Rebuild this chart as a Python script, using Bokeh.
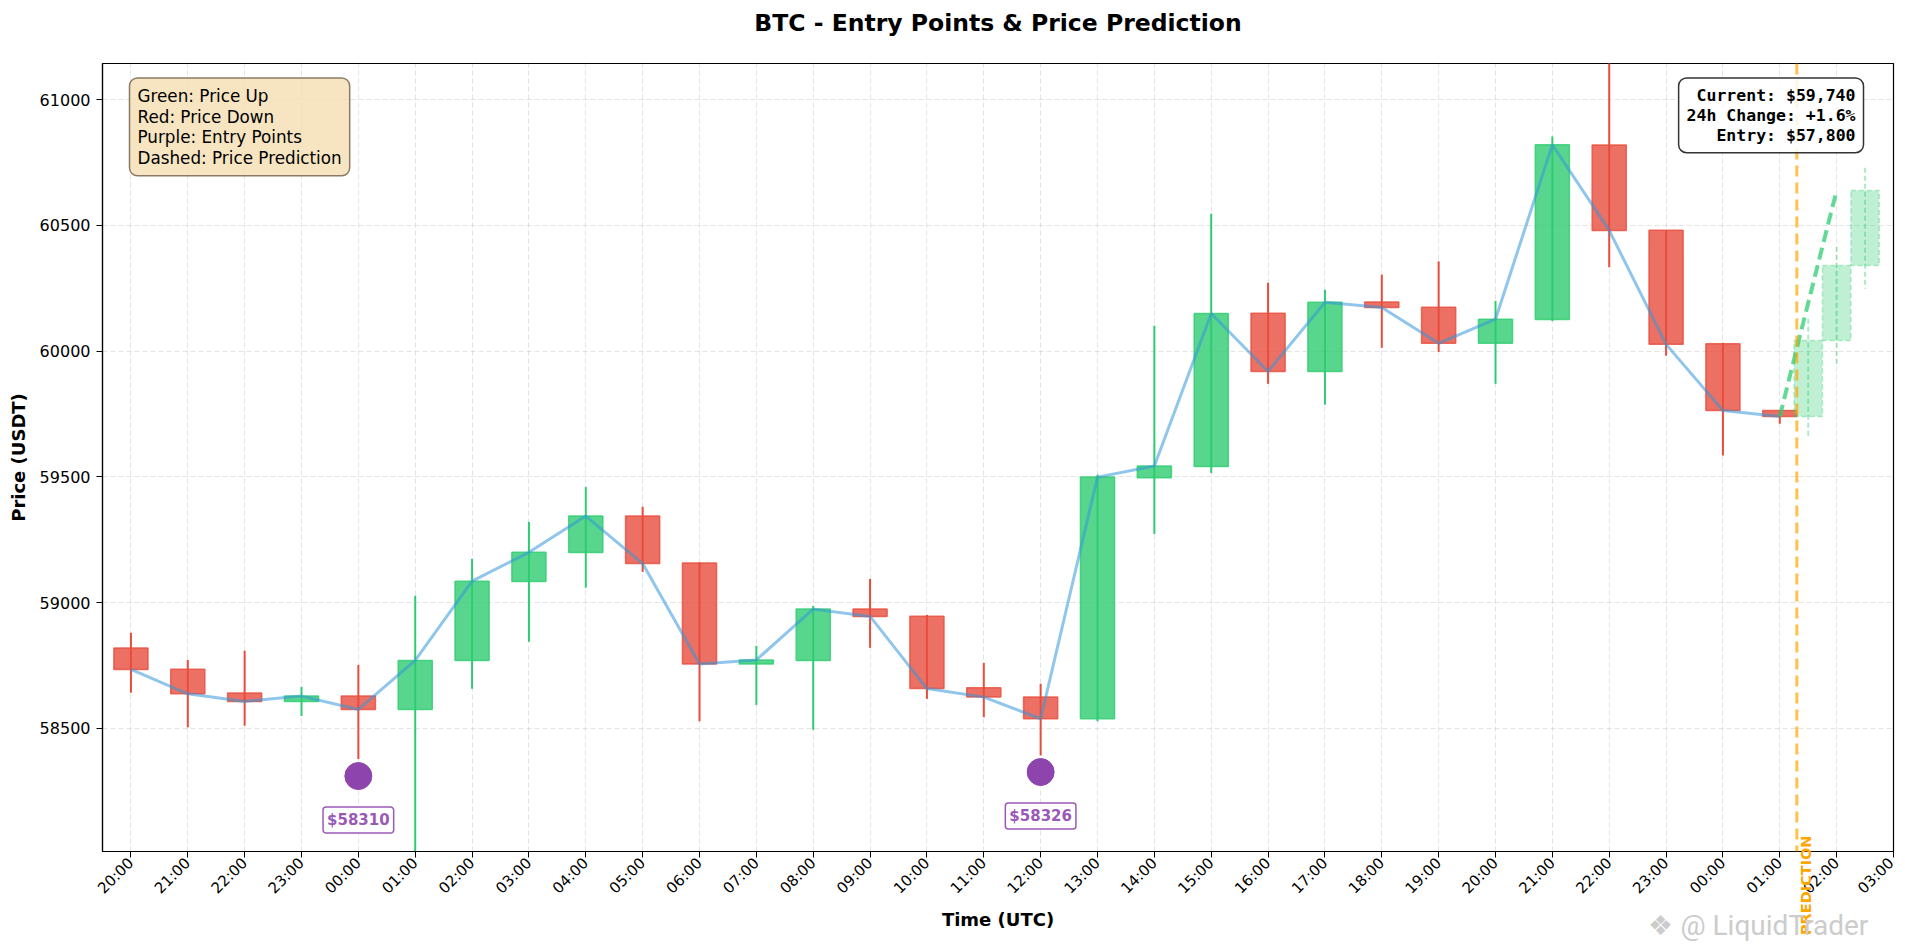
import math
import numpy as np

from bokeh.plotting import figure
from bokeh.models import (ColumnDataSource, FixedTicker, Span, Label, Range1d,
                          Title, LinearAxis, CustomJSTickFormatter)
from bokeh.embed import file_html
from bokeh.resources import INLINE

# --- data --------------------------------------------------------------------
hour_labels = ["20:00", "21:00", "22:00", "23:00", "00:00", "01:00", "02:00",
               "03:00", "04:00", "05:00", "06:00", "07:00", "08:00", "09:00",
               "10:00", "11:00", "12:00", "13:00", "14:00", "15:00", "16:00",
               "17:00", "18:00", "19:00", "20:00", "21:00", "22:00", "23:00",
               "00:00", "01:00", "02:00", "03:00"]

opens = [58819, 58735, 58640, 58607, 58628, 58575, 58770, 59084, 59199, 59344,
         59157, 58756, 58770, 58974, 58946, 58661, 58624, 58538, 59496, 59541,
         60151, 59919, 60195, 60175, 60031, 60126, 60820, 60481, 60029, 59764]
highs = [58880, 58772, 58808, 58665, 58752, 59027, 59174, 59321, 59460, 59381,
         59160, 58828, 58987, 59094, 58951, 58760, 58677, 59509, 60101, 60546,
         60272, 60244, 60304, 60357, 60200, 60854, 61200, 60481, 60033, 59764]
lows = [58641, 58504, 58510, 58549, 58378, 57900, 58657, 58844, 59059, 59122,
        58528, 58593, 58494, 58820, 58617, 58544, 58392, 58528, 59273, 59515,
        59870, 59787, 60013, 59997, 59870, 60120, 60334, 59982, 59585, 59711]
closes = [58734, 58637, 58607, 58628, 58575, 58770, 59085, 59200, 59344, 59155,
          58756, 58772, 58974, 58945, 58658, 58624, 58538, 59499, 59543, 60150,
          59919, 60194, 60174, 60031, 60127, 60821, 60480, 60027, 59764, 59740]

pred_x = [29.5, 30.0, 30.5]
pred_open = [59740, 60042, 60341]
pred_close = [60042, 60341, 60639]
pred_high = [60129, 60414, 60729]
pred_low = [59654, 59950, 60248]

entry_x = [4, 16]
entry_price = [58310, 58326]

current_price = 59740
change_24h = 1.6
entry_level = 57800
now_marker = 29.3

GREEN = "#2ecc71"
RED = "#e74c3c"
PURPLE = "#8e44ad"
FONT = "DejaVu Sans"

x_lo, x_hi = -0.5, 31.0
y_lo, y_hi = 58010, 61144

# --- sources ---------------------------------------------------------------
xs = np.arange(len(opens))
up = np.array(closes) >= np.array(opens)
src = ColumnDataSource(dict(
    x=xs,
    top=np.maximum(opens, closes),
    bottom=np.minimum(opens, closes),
    high=highs,
    low=lows,
    color=[GREEN if u else RED for u in up],
))
pred_src = ColumnDataSource(dict(
    x=pred_x,
    top=np.maximum(pred_open, pred_close),
    bottom=np.minimum(pred_open, pred_close),
    high=pred_high,
    low=pred_low,
))

p = figure(frame_width=1791, frame_height=788,
           x_range=Range1d(x_lo, x_hi), y_range=Range1d(y_lo, y_hi),
           min_border_left=102, min_border_right=4, min_border_top=63,
           min_border_bottom=88, toolbar_location=None, output_backend="svg")

# title: a thin spacer next to the frame, the real title above it
p.add_layout(Title(text=" ", text_font_size="1px", standoff=23), "above")
p.add_layout(Title(text="BTC - Entry Points & Price Prediction", align="center",
                   vertical_align="middle", standoff=0, text_font=FONT,
                   text_font_size="23.5px", text_font_style="bold",
                   text_color="black"), "above")

p.outline_line_color = "black"
p.outline_line_width = 1.2

# axes
p.xaxis.ticker = FixedTicker(ticks=list(range(len(hour_labels))))
p.xaxis.major_label_overrides = {i: lbl for i, lbl in enumerate(hour_labels)}
p.xaxis.major_label_orientation = math.pi / 4
p.yaxis.ticker = FixedTicker(ticks=[58500, 59000, 59500, 60000, 60500, 61000])
p.xaxis.axis_label = "Time (UTC)"
p.yaxis.axis_label = "Price (USDT)"
for ax in (p.xaxis, p.yaxis):
    ax.axis_label_text_font = FONT
    ax.axis_label_text_font_size = "18px"
    ax.axis_label_text_font_style = "bold"
    ax.axis_label_text_color = "black"
    ax.major_label_text_font = FONT
    ax.major_label_text_color = "black"
    ax.axis_line_color = "black"
    ax.axis_line_width = 1.2
    ax.major_tick_line_color = "black"
    ax.major_tick_out = 6
    ax.major_tick_in = 0
    ax.minor_tick_line_color = None
p.yaxis.axis_label_standoff = 8
p.yaxis.major_label_standoff = 6
p.xaxis.axis_label_standoff = 2
p.xaxis.major_label_standoff = 3
p.xaxis.major_label_text_font_size = "15px"
p.yaxis.major_label_text_font_size = "16px"

for g in (p.xgrid, p.ygrid):
    g.grid_line_color = "#b0b0b0"
    g.grid_line_alpha = 0.35
    g.grid_line_dash = "5 3"
p.xgrid.ticker = p.xaxis.ticker
p.ygrid.ticker = p.yaxis.ticker

# candles
p.segment("x", "high", "x", "low", source=src, line_color="color", line_width=2)
p.vbar(x="x", width=0.6, top="top", bottom="bottom", source=src,
       fill_color="color", fill_alpha=0.8, line_color="color", line_alpha=0.8,
       line_width=1.5)

# close line
p.line(xs, closes, line_color="#3498db", line_alpha=0.55, line_width=3)

# prediction
p.segment("x", "high", "x", "low", source=pred_src, line_color=GREEN,
          line_alpha=0.4, line_width=2, line_dash="5 3")
p.vbar(x="x", width=0.5, top="top", bottom="bottom", source=pred_src,
       fill_color=GREEN, fill_alpha=0.3, line_color=GREEN, line_alpha=0.35,
       line_width=1.5, line_dash="5 3")
pred_line_x = np.linspace(xs[-1], pred_x[1], len(pred_close) + 1)
p.line(pred_line_x, [closes[-1]] + pred_close, line_color=GREEN,
       line_alpha=0.75, line_width=4, line_dash="12 6")

p.add_layout(Span(location=now_marker, dimension="height", line_color="#FFA500",
                  line_alpha=0.7, line_width=3, line_dash="11 6"))

# "PREDICTION" tag hanging below the frame, drawn as an extra axis label
pred_axis = LinearAxis(ticker=FixedTicker(ticks=[now_marker + 0.16]),
                       formatter=CustomJSTickFormatter(code="return 'PREDICTION'"),
                       major_label_orientation=math.pi / 2,
                       major_label_standoff=-97,
                       major_label_text_font=FONT,
                       major_label_text_font_size="14.5px",
                       major_label_text_font_style="bold",
                       major_label_text_color="#FFA500",
                       axis_line_color=None, major_tick_line_color=None,
                       minor_tick_line_color=None,
                       major_tick_out=0, major_tick_in=0)
p.add_layout(pred_axis, "below")

# watermark, bottom right
mark_axis = LinearAxis(ticker=FixedTicker(ticks=[29.65]),
                       formatter=CustomJSTickFormatter(code="return '\u2756 @ LiquidTrader'"),
                       major_label_orientation="horizontal",
                       major_label_standoff=-30,
                       major_label_text_font="Roboto",
                       major_label_text_font_size="28px",
                       major_label_text_color="#cccccc",
                       axis_line_color=None, major_tick_line_color=None,
                       minor_tick_line_color=None,
                       major_tick_out=0, major_tick_in=0)
p.add_layout(mark_axis, "below")

# entry points
p.scatter(entry_x, entry_price, size=27, fill_color=PURPLE, line_color=PURPLE)
for ex, ep in zip(entry_x, entry_price):
    p.add_layout(Label(x=ex, y=ep, y_offset=-44, text=f"${ep}",
                       text_align="center", text_baseline="middle",
                       text_font=FONT, text_font_size="15px",
                       text_font_style="bold", text_color="#9b59b6",
                       background_fill_color="white", background_fill_alpha=0.9,
                       border_line_color="#9b59b6", border_line_width=1.5,
                       padding=4, border_radius=3))

# info boxes
p.add_layout(Label(x=x_lo, y=y_hi, x_offset=27, y_offset=-14.5,
                   text="Green: Price Up\nRed: Price Down\nPurple: Entry Points\nDashed: Price Prediction",
                   text_align="left", text_baseline="top",
                   text_font=FONT, text_font_size="16.8px",
                   text_line_height=1.03, text_color="black",
                   background_fill_color="#F5DEB3", background_fill_alpha=0.8,
                   border_line_color="#8b7b66", border_line_width=1.5,
                   padding=8, border_radius=8))

p.add_layout(Label(x=x_hi, y=y_hi, x_offset=-30, y_offset=-14.5,
                   text=f"Current: ${current_price:,}\n24h Change: +{change_24h}%\nEntry: ${entry_level:,}",
                   text_align="right", text_baseline="top",
                   text_font="DejaVu Sans Mono", text_font_size="16.5px",
                   text_font_style="bold", text_line_height=1.045,
                   text_color="black",
                   background_fill_color="white", background_fill_alpha=0.85,
                   border_line_color="#333333", border_line_width=1.5,
                   padding=8, border_radius=8))

open("out.html", "w").write(file_html(p, INLINE))
